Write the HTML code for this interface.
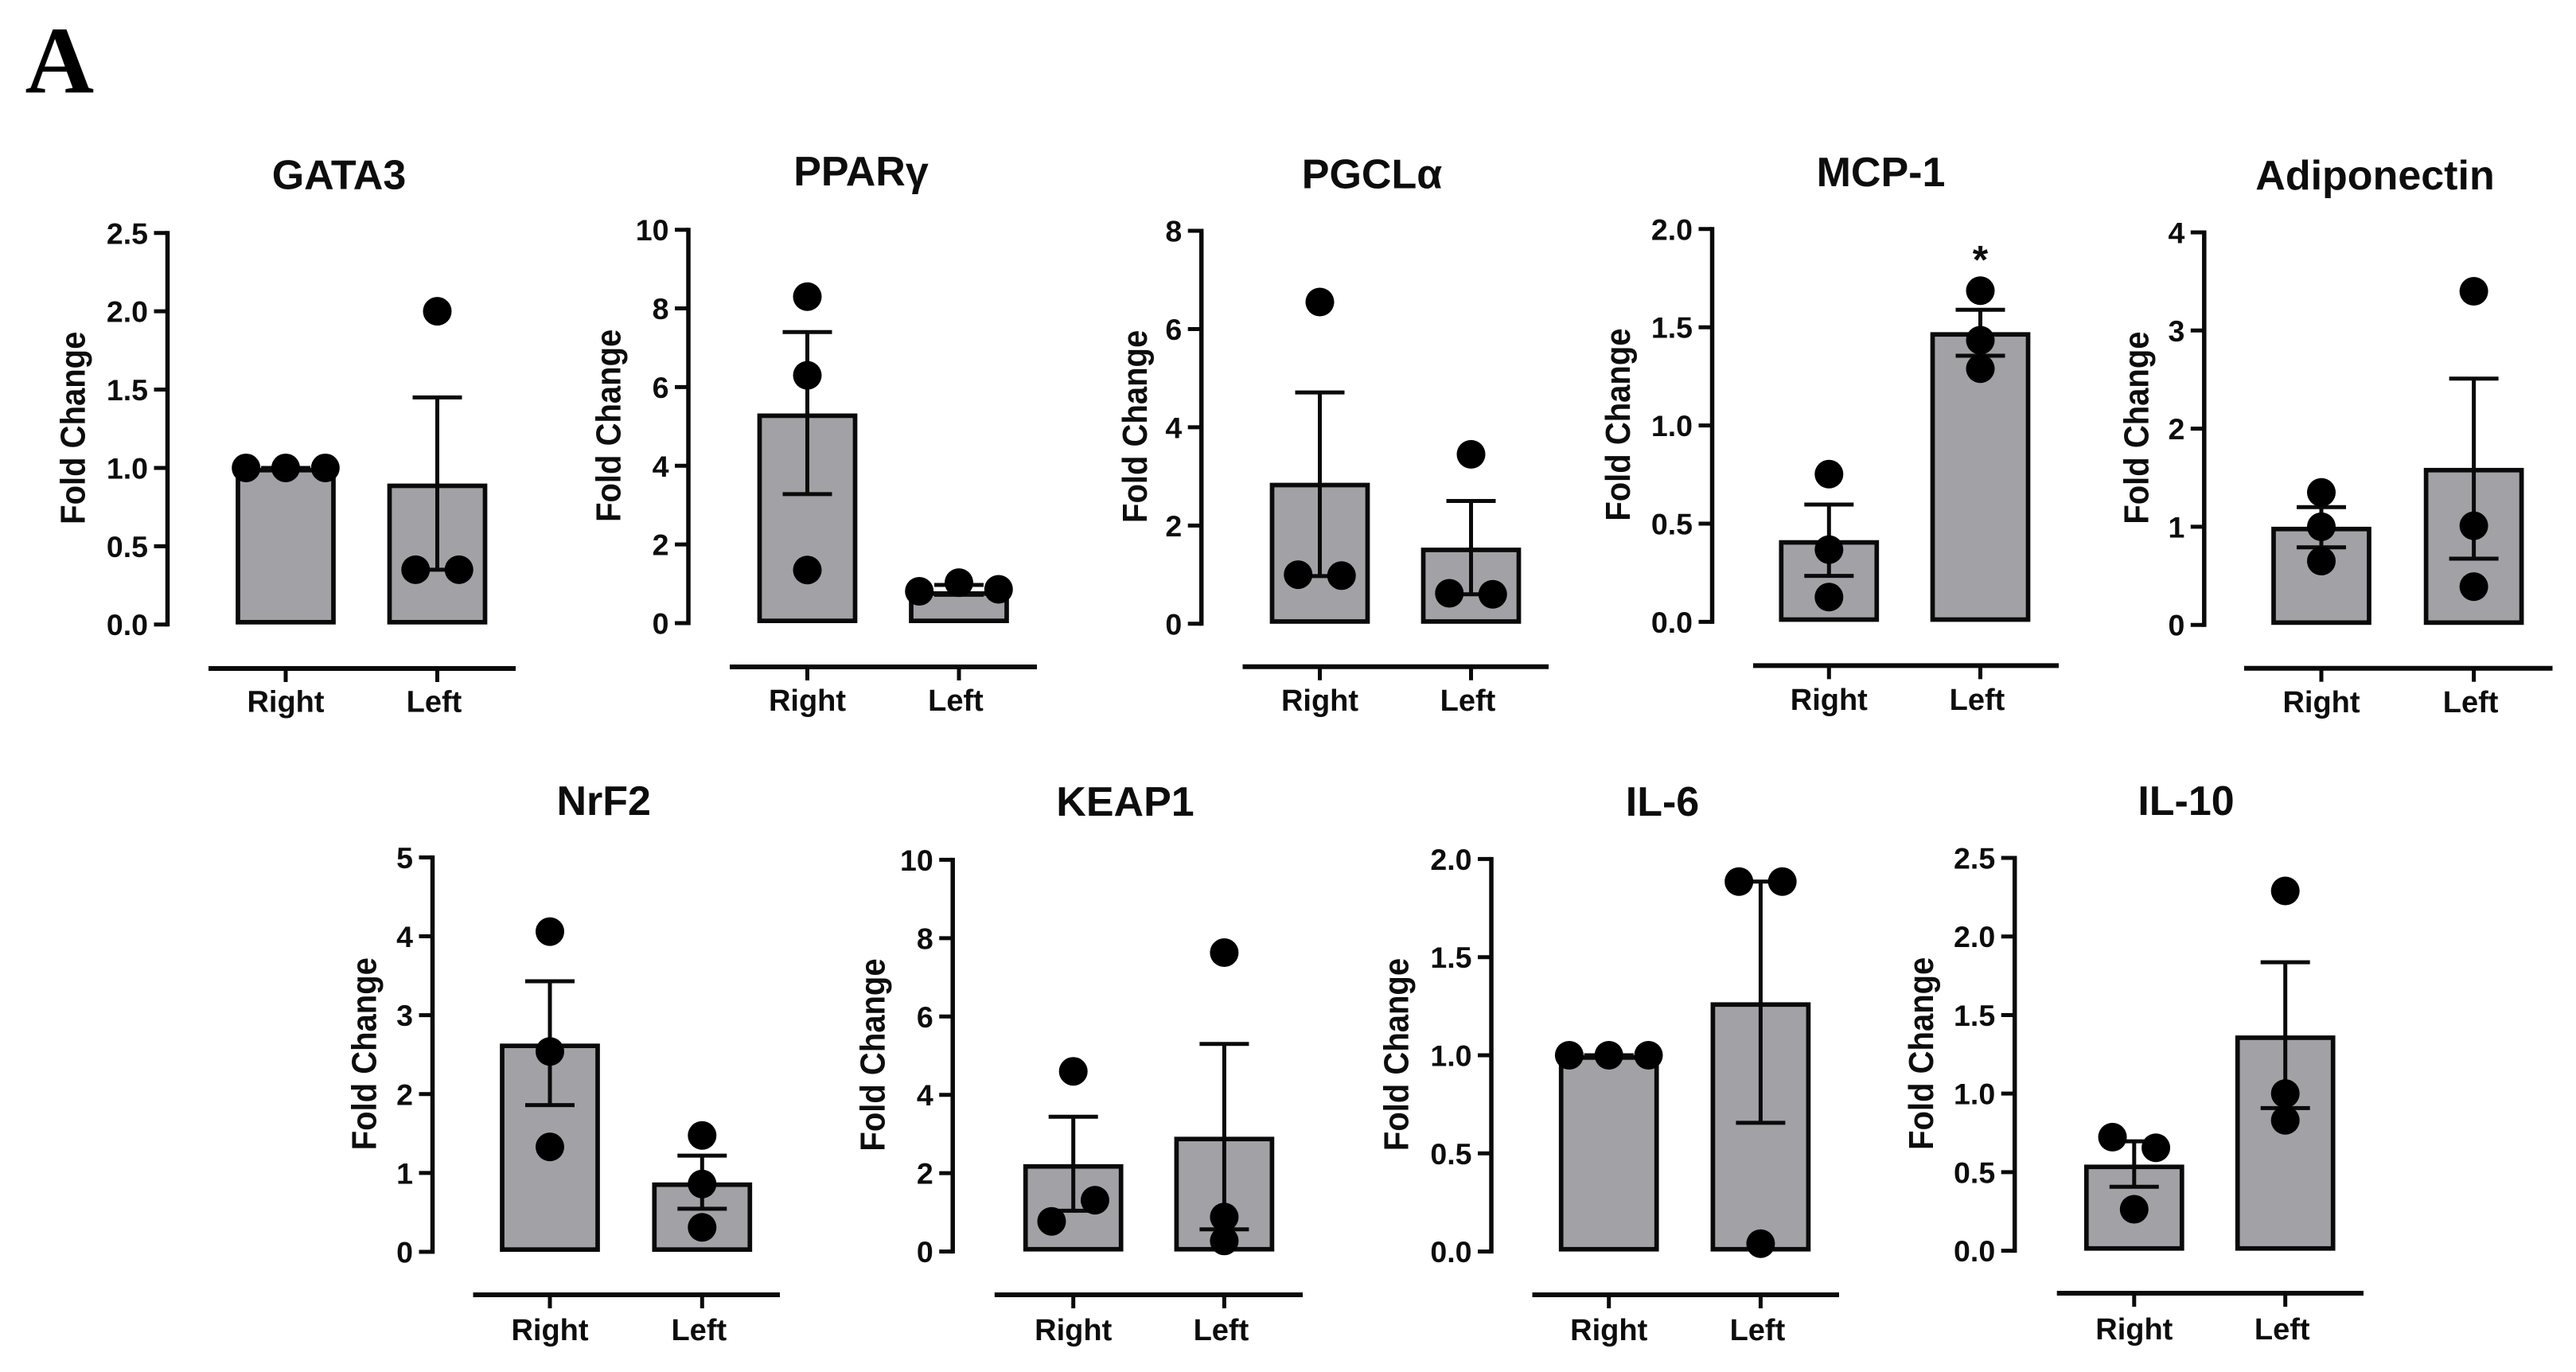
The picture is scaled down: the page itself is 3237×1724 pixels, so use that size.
<!DOCTYPE html>
<html lang="en">
<head>
<meta charset="utf-8">
<title>Fold change by side, nine markers</title>
<style>
html,body{margin:0;padding:0;background:#fff;}
#figure{display:block;width:3237px;height:1724px;}
text{font-family:"Liberation Sans",Arial,sans-serif;font-weight:700;fill:#0d0d0d;}
#panel-letter{font-family:"Liberation Serif","Times New Roman",serif;font-size:120px;fill:#000;}
</style>
</head>
<body>
<svg id="figure" xmlns="http://www.w3.org/2000/svg" width="3237" height="1724" viewBox="0 0 3237 1724">
<rect x="0" y="0" width="3237" height="1724" fill="#ffffff"/>
<text id="panel-letter" x="31.5" y="116">A</text>
</svg>
<script>
const panelTitles = ['GATA3','PPARγ','PGCLα','MCP-1','Adiponectin','NrF2','KEAP1','IL-6','IL-10'];
const categories = ['Right','Left'];
const yAxisTitle = 'Fold Change';
const yMaxes = [2.5,10,8,2,4,5,10,2,2.5];
const yTickLabels = [
  ['0.0','0.5','1.0','1.5','2.0','2.5'],
  ['0','2','4','6','8','10'],
  ['0','2','4','6','8'],
  ['0.0','0.5','1.0','1.5','2.0'],
  ['0','1','2','3','4'],
  ['0','1','2','3','4','5'],
  ['0','2','4','6','8','10'],
  ['0.0','0.5','1.0','1.5','2.0'],
  ['0.0','0.5','1.0','1.5','2.0','2.5']
];
const barMeans = [[1,0.9],[5.33,0.81],[2.87,1.55],[0.416,1.475],[1,1.6],[2.64,0.88],[2.23,2.93],[1,1.27],[0.548,1.37]];
const errorUpper = [[1,1.45],[7.4,0.97],[4.71,2.5],[0.597,1.589],[1.2,2.51],[3.43,1.22],[3.44,5.3],[1,1.885],[0.696,1.836]];
const errorLower = [[1,0.35],[3.28,0.72],[0.97,0.6],[0.234,1.355],[0.79,0.675],[1.86,0.546],[1.04,0.565],[1,0.656],[0.407,0.908]];
const pointsRight = [[1,1,1],[8.3,6.3,1.35],[6.55,1,0.98],[0.752,0.368,0.126],[1.35,1,0.65],[4.06,2.54,1.33],[0.77,1.31,4.6],[1,1,1],[0.723,0.655,0.264]];
const pointsLeft = [[2,0.35,0.35],[0.81,1.03,0.86],[3.45,0.62,0.6],[1.686,1.434,1.289],[3.4,1.01,0.39],[1.475,0.86,0.31],[7.63,0.88,0.27],[1.885,1.885,0.04],[2.29,1,0.83]];
const significanceMarks = [null,null,null,[null,'*'],null,null,null,null,null];

/* Layout only: where each panel sits on the canvas. */
const panelLayouts = [
  {axisX:210.5, y0:784.7, yTop:292.8, cats:[359,549.5],   lineL:262,   lineR:648,  lineY:840,   titleX:426,  titleY:237.5,labelY:894.5, yTitleOff:104},
  {axisX:865,   y0:783,   yTop:288.7, cats:[1014.5,1205], lineL:917,   lineR:1303, lineY:838,   titleX:1082, titleY:233,  labelY:893,   yTitleOff:85.5},
  {axisX:1509.7,y0:783.8, yTop:290,   cats:[1658.5,1848.5],lineL:1561.5,lineR:1946,lineY:837.8, titleX:1724, titleY:236.5,labelY:893,   yTitleOff:68.5},
  {axisX:2151.5,y0:781.4, yTop:287.8, cats:[2298.3,2488.5],lineL:2203, lineR:2587, lineY:836.4, titleX:2363.5,titleY:234,labelY:892,   yTitleOff:103.5},
  {axisX:2769.8,y0:785.2, yTop:292,   cats:[2917,3108.6], lineL:2820,  lineR:3207.5,lineY:839.7,titleX:2984.5,titleY:238,labelY:895,   yTitleOff:70.5},
  {axisX:543.5, y0:1573,  yTop:1077.4,cats:[691,882.3],   lineL:594.5, lineR:980,  lineY:1627,  titleX:758.7,titleY:1024,labelY:1684,  yTitleOff:71},
  {axisX:1197.2,y0:1572.6,yTop:1080.4,cats:[1348.7,1538.4],lineL:1249.8,lineR:1637,lineY:1627,  titleX:1414, titleY:1025,labelY:1684,  yTitleOff:85.5},
  {axisX:1874,  y0:1572.6,yTop:1079.4,cats:[2021.7,2212.4],lineL:1925.5,lineR:2311,lineY:1627,  titleX:2089, titleY:1025,labelY:1684,  yTitleOff:104.5},
  {axisX:2531.7,y0:1571.6,yTop:1078,  cats:[2681.8,2871.7],lineL:2584.7,lineR:2970,lineY:1625,  titleX:2747, titleY:1024,labelY:1683,  yTitleOff:102.5}
];

const SVG_NS = 'http://www.w3.org/2000/svg';
const figure = document.getElementById('figure');
const INK = '#0a0a0a';
const BAR_FILL = '#a2a2a6';
const AXIS_STROKE = 5.5;
const BAR_STROKE = 5.7;
const TICK_LEN = 17;
const BAR_HALF = 60;
const CAP_HALF = 31;
const DOT_R = 18;
const SWARM_PX = 29;

function yScale(panel, value) {
  const lay = panelLayouts[panel];
  return lay.y0 - (value / yMaxes[panel]) * (lay.y0 - lay.yTop);
}
function xCategory(panel, cat) {
  return panelLayouts[panel].cats[cat];
}
function make(parent, tag, attrs, content) {
  const el = document.createElementNS(SVG_NS, tag);
  for (const key in attrs) el.setAttribute(key, attrs[key]);
  if (content !== undefined) el.textContent = content;
  parent.appendChild(el);
  return el;
}
function rule(parent, x1, y1, x2, y2, width) {
  return make(parent, 'line', {x1:x1, y1:y1, x2:x2, y2:y2, stroke:INK, 'stroke-width':width, 'stroke-linecap':'butt'});
}
function swarmOffsets(panel, values) {
  const groups = [];
  values.forEach(function (v, i) {
    const hit = groups.find(function (g) {
      return g.some(function (j) { return Math.abs(yScale(panel, values[j]) - yScale(panel, v)) < SWARM_PX; });
    });
    if (hit) hit.push(i); else groups.push([i]);
  });
  const offsets = values.map(function () { return 0; });
  groups.forEach(function (g) {
    const step = g.length === 2 ? 54.5 : 49.8;
    g.forEach(function (idx, k) { offsets[idx] = (k - (g.length - 1) / 2) * step; });
  });
  return offsets;
}

function drawPanel(p) {
  const lay = panelLayouts[p];
  const slug = panelTitles[p].toLowerCase();

  const group = make(figure, 'g', {});
  
  

  const title = make(group, 'text', {x:lay.titleX, y:lay.titleY, 'text-anchor':'middle', 'font-size':52}, panelTitles[p]);
  
  

  const yAxis = make(group, 'g', {});
  
  
  const yLine = rule(yAxis, lay.axisX, lay.yTop - 2.5, lay.axisX, lay.y0 + 2.5, AXIS_STROKE);
  
  
  yTickLabels[p].forEach(function (label) {
    const y = yScale(p, parseFloat(label));
    const tick = rule(yAxis, lay.axisX - TICK_LEN, y, lay.axisX, y, 5);
    
    
    const tickText = make(yAxis, 'text', {x:lay.axisX - 24.5, y:y + 13.5, 'text-anchor':'end', 'font-size':37.5}, label);
    
    
  });

  const yMid = (lay.y0 + lay.yTop) / 2 - 1;
  const yTitleX = lay.axisX - lay.yTitleOff;
  const yTitle = make(group, 'text', {x:0, y:0, 'text-anchor':'middle', 'font-size':40, transform:'translate(' + yTitleX + ',' + yMid + ') rotate(-90) scale(1,1.08)'}, yAxisTitle);
  
  

  const xAxis = make(group, 'g', {});
  
  
  const xLine = rule(xAxis, lay.lineL, lay.lineY, lay.lineR, lay.lineY, 6);
  
  

  categories.forEach(function (cat, c) {
    const cx = xCategory(p, c);
    const catSlug = cat.toLowerCase();

    const xTick = rule(xAxis, cx, lay.lineY, cx, lay.lineY + 17, 5);
    
    
    const xText = make(xAxis, 'text', {x:cx - (c === 1 ? 4 : 0), y:lay.labelY, 'text-anchor':'middle', 'font-size':38}, cat);
    
    

    /* The bar's outer edge sits on the value and on the zero line. */
    const barTop = yScale(p, barMeans[p][c]) + BAR_STROKE / 2;
    const barBottom = lay.y0 - BAR_STROKE / 2;
    const bar = make(group, 'rect', {x:cx - BAR_HALF, y:barTop, width:BAR_HALF * 2, height:barBottom - barTop, fill:BAR_FILL, stroke:INK, 'stroke-width':BAR_STROKE});
    
    

    const hi = yScale(p, errorUpper[p][c]);
    const lo = yScale(p, errorLower[p][c]);
    const err = make(group, 'g', {});
    
    
    rule(err, cx, hi, cx, lo, 5);
    rule(err, cx - CAP_HALF, hi, cx + CAP_HALF, hi, 5);
    rule(err, cx - CAP_HALF, lo, cx + CAP_HALF, lo, 5);

    const values = c === 0 ? pointsRight[p] : pointsLeft[p];
    const offsets = swarmOffsets(p, values);
    values.forEach(function (v, i) {
      const dot = make(group, 'circle', {cx:cx + offsets[i], cy:yScale(p, v), r:DOT_R, fill:'#000'});
      
      
    });

    const marks = significanceMarks[p];
    if (marks && marks[c]) {
      const top = Math.max.apply(null, values);
      const star = make(group, 'text', {x:cx, y:yScale(p, top) - 22, 'text-anchor':'middle', 'font-size':50}, marks[c]);
      
      
    }
  });
}

panelTitles.forEach(function (t, p) { drawPanel(p); });
</script>
</body>
</html>
